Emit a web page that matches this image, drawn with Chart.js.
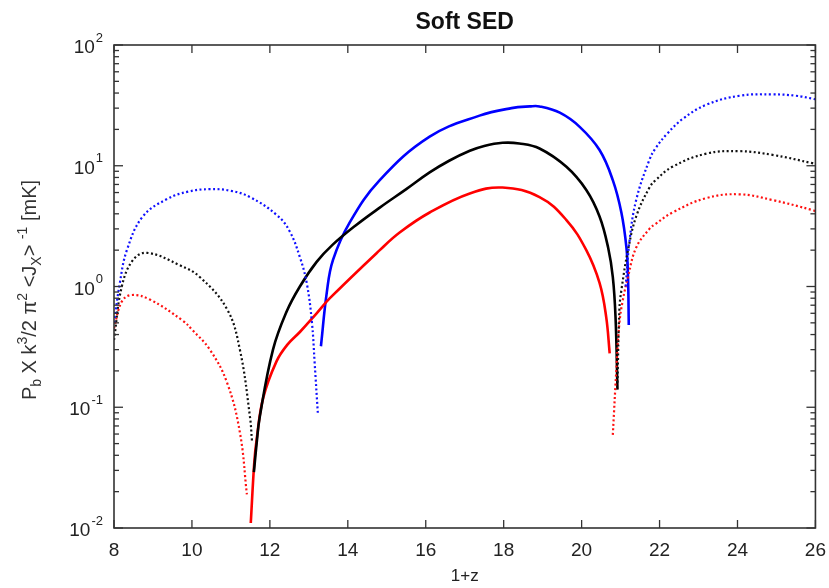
<!DOCTYPE html>
<html>
<head>
<meta charset="utf-8">
<script src="https://cdn.jsdelivr.net/npm/chart.js@4"></script>
<style>
  html, body { margin: 0; padding: 0; background: #fff; }
  #wrap { width: 829px; height: 588px; }
</style>
</head>
<body>
<div id="wrap"><canvas id="chart" width="829" height="588"></canvas></div>
<script>
// values (x = 1+z, y in mK, log axis)
const blueSolidX  = [13.31, 13.46, 13.62, 14.05, 14.82, 16.1, 17.38, 18.2, 18.67, 18.92, 19.44, 19.95, 20.46, 20.8, 21.02, 21.15, 21.19, 21.21];
const blueSolidY  = [0.32, 0.89, 1.66, 3.4, 7.6, 17.4, 26, 30, 31, 31, 27.5, 21, 13.5, 7.6, 4.1, 2.1, 1.2, 0.48];
const blackSolidX = [11.59, 11.66, 11.74, 12.08, 12.43, 12.77, 13.2, 13.6, 14.2, 14.82, 15.5, 16.1, 16.6, 17.13, 17.5, 17.97, 18.4, 18.92, 19.61, 20.12, 20.46, 20.68, 20.8, 20.87, 20.92];
const blackSolidY = [0.029, 0.05, 0.083, 0.30, 0.62, 1.0, 1.6, 2.2, 3.2, 4.5, 6.4, 8.8, 11.0, 13.3, 14.6, 15.5, 15.3, 13.9, 9.8, 6.3, 3.8, 2.1, 1.2, 0.56, 0.14];
const redSolidX   = [11.51, 11.6, 11.66, 11.83, 12.17, 12.45, 12.77, 13.2, 13.54, 14.82, 15.33, 16.1, 17.13, 17.97, 18.92, 19.61, 20.12, 20.46, 20.63, 20.72];
const redSolidY   = [0.011, 0.035, 0.054, 0.12, 0.24, 0.33, 0.42, 0.60, 0.80, 2.0, 2.8, 4.1, 5.9, 6.6, 5.5, 3.55, 2.0, 1.07, 0.56, 0.28];

const blueDotLeftX  = [8.0, 8.15, 8.33, 8.74, 9.36, 9.9, 10.46, 11.0, 11.49, 12.18, 12.5, 12.77, 12.95, 13.08, 13.15, 13.23];
const blueDotLeftY  = [0.5, 1.07, 2.0, 3.8, 5.3, 6.1, 6.4, 6.2, 5.5, 3.9, 2.9, 1.75, 1.05, 0.5, 0.23, 0.09];
const blackDotLeftX = [8.0, 8.2, 8.49, 8.85, 9.69, 10.2, 10.9, 11.23, 11.49, 11.54];
const blackDotLeftY = [0.36, 1.0, 1.66, 1.9, 1.5, 1.2, 0.65, 0.30, 0.083, 0.053];
const redDotLeftX   = [8.0, 8.2, 8.45, 8.92, 9.77, 10.0, 10.46, 10.9, 11.23, 11.41];
const redDotLeftY   = [0.45, 0.75, 0.85, 0.78, 0.52, 0.44, 0.30, 0.16, 0.062, 0.019];

const blueDotRightX  = [21.13, 21.23, 21.4, 21.74, 21.9, 22.2, 22.6, 23.2, 24.05, 24.9, 25.5, 25.92, 26.0];
const blueDotRightY  = [1.0, 2.4, 5.2, 11.2, 14.0, 18.5, 24.5, 32, 38, 39, 38, 36, 35.5];
const blackDotRightX = [20.92, 20.97, 21.02, 21.19, 21.4, 21.74, 21.9, 22.33, 23.2, 24.05, 24.9, 25.92, 26.0];
const blackDotRightY = [0.16, 0.65, 0.93, 2.0, 3.8, 6.6, 7.6, 9.8, 12.6, 13.2, 12.3, 10.5, 10.3];
const redDotRightX   = [20.8, 20.9, 20.97, 21.05, 21.19, 21.4, 21.74, 21.9, 22.33, 23.2, 24.05, 24.9, 25.92, 26.0];
const redDotRightY   = [0.059, 0.23, 0.5, 0.75, 1.2, 2.1, 3.0, 3.3, 4.1, 5.4, 5.8, 5.2, 4.3, 4.2];

const xTicks = [8, 10, 12, 14, 16, 18, 20, 22, 24, 26];
const yDecades = [-2, -1, 0, 1, 2];
const yMinorSteps = [2, 3, 4, 5, 6, 7, 8, 9];
const chartTitle = 'Soft SED';

const FONT = "'Liberation Sans', Arial, sans-serif";

function pts(xs, ys) {
    return xs.map((x, i) => ({ x: x, y: ys[i] }));
}

function line(xs, ys, color, dotted) {
    return {
        data: pts(xs, ys),
        borderColor: color,
        borderWidth: dotted ? 2.2 : 2.6,
        borderDash: dotted ? [2, 2.5] : [],
        pointRadius: 0,
        tension: 0.4,
        fill: false
    };
}

// frame, inward ticks, title over the plot, y tick labels and the y title with sub/superscripts
const framePlugin = {
    id: 'frame',
    afterDraw(chart) {
        const ctx = chart.ctx;
        const { left, right, top, bottom } = chart.chartArea;
        const x = chart.scales.x, y = chart.scales.y;
        ctx.save();
        ctx.strokeStyle = '#333';
        ctx.lineWidth = 1.6;
        ctx.strokeRect(left, top, right - left, bottom - top);

        const seg = (x1, y1, x2, y2) => { ctx.beginPath(); ctx.moveTo(x1, y1); ctx.lineTo(x2, y2); ctx.stroke(); };
        ctx.lineWidth = 1.3;
        xTicks.forEach(v => {
            const px = x.getPixelForValue(v);
            seg(px, bottom, px, bottom - 8);
            seg(px, top, px, top + 8);
        });
        yDecades.forEach(d => {
            const py = y.getPixelForValue(Math.pow(10, d));
            seg(left, py, left + 9, py);
            seg(right, py, right - 9, py);
            if (d < 2) {
                yMinorSteps.forEach(m => {
                    const pm = y.getPixelForValue(m * Math.pow(10, d));
                    seg(left, pm, left + 5, pm);
                    seg(right, pm, right - 5, pm);
                });
            }
        });

        // title centred on the plot box
        ctx.fillStyle = '#111';
        ctx.font = 'bold 23px ' + FONT;
        ctx.textAlign = 'center';
        ctx.textBaseline = 'middle';
        ctx.fillText(chartTitle, (left + right) / 2, 23);

        // y tick labels: 10 with exponent
        ctx.fillStyle = '#222';
        ctx.textAlign = 'left';
        yDecades.forEach(d => {
            const py = y.getPixelForValue(Math.pow(10, d));
            const exp = d < 0 ? '-' + (-d) : String(d);
            ctx.font = '13px ' + FONT;
            const ew = ctx.measureText(exp).width;
            ctx.font = '19px ' + FONT;
            const bw = ctx.measureText('10').width;
            const xr = left - 11;
            ctx.fillText('10', xr - ew - 1 - bw, py + 3);
            ctx.font = '13px ' + FONT;
            ctx.fillText(exp, xr - ew, py - 7);
        });

        // rotated y title
        const parts = [['P', 0], ['b', 1], [' X k', 0], ['3', -1], ['/2 ', 0], ['\u03c0', 0], ['2', -1],
                       [' <J', 0], ['X', 1], ['> ', 0], ['-1', -1], [' [mK]', 0]];
        const fontFor = k => (k === 0 ? '20px ' : '14px ') + FONT;
        let total = 0;
        parts.forEach(p => { ctx.font = fontFor(p[1]); total += ctx.measureText(p[0]).width; });
        ctx.translate(36, 290);
        ctx.rotate(-Math.PI / 2);
        ctx.textBaseline = 'alphabetic';
        ctx.fillStyle = '#333';
        let u = -total / 2;
        parts.forEach(p => {
            ctx.font = fontFor(p[1]);
            const dv = p[1] === 1 ? 5 : (p[1] === -1 ? -9 : 0);
            ctx.fillText(p[0], u, dv);
            u += ctx.measureText(p[0]).width;
        });
        ctx.restore();
    }
};

new Chart(document.getElementById('chart'), {
    type: 'line',
    data: {
        datasets: [
            line(blueDotLeftX, blueDotLeftY, '#1010ff', true),
            line(blackDotLeftX, blackDotLeftY, '#111111', true),
            line(redDotLeftX, redDotLeftY, '#ff1010', true),
            line(blueDotRightX, blueDotRightY, '#1010ff', true),
            line(blackDotRightX, blackDotRightY, '#111111', true),
            line(redDotRightX, redDotRightY, '#ff1010', true),
            line(blackSolidX, blackSolidY, '#000000', false),
            line(redSolidX, redSolidY, '#ff0000', false),
            line(blueSolidX, blueSolidY, '#0000ff', false)
        ]
    },
    options: {
        responsive: false,
        animation: false,
        layout: { padding: { left: 0, right: 13, top: 45, bottom: 0 } },
        scales: {
            x: {
                type: 'linear',
                min: 8,
                max: 26,
                grid: { display: false },
                border: { display: false },
                ticks: { stepSize: 2, padding: 3, color: '#222', font: { family: FONT, size: 19 } },
                title: { display: true, text: '1+z', color: '#222', font: { family: FONT, size: 17 }, padding: { top: 0, bottom: 1 } },
                afterFit(s) { s.height = 60; }
            },
            y: {
                type: 'logarithmic',
                min: 0.01,
                max: 100,
                grid: { display: false },
                border: { display: false },
                ticks: { display: false },
                afterFit(s) { s.width = 114; }
            }
        },
        plugins: {
            legend: { display: false },
            tooltip: { enabled: false },
            title: { display: false }
        }
    },
    plugins: [framePlugin]
});
</script>
</body>
</html>
